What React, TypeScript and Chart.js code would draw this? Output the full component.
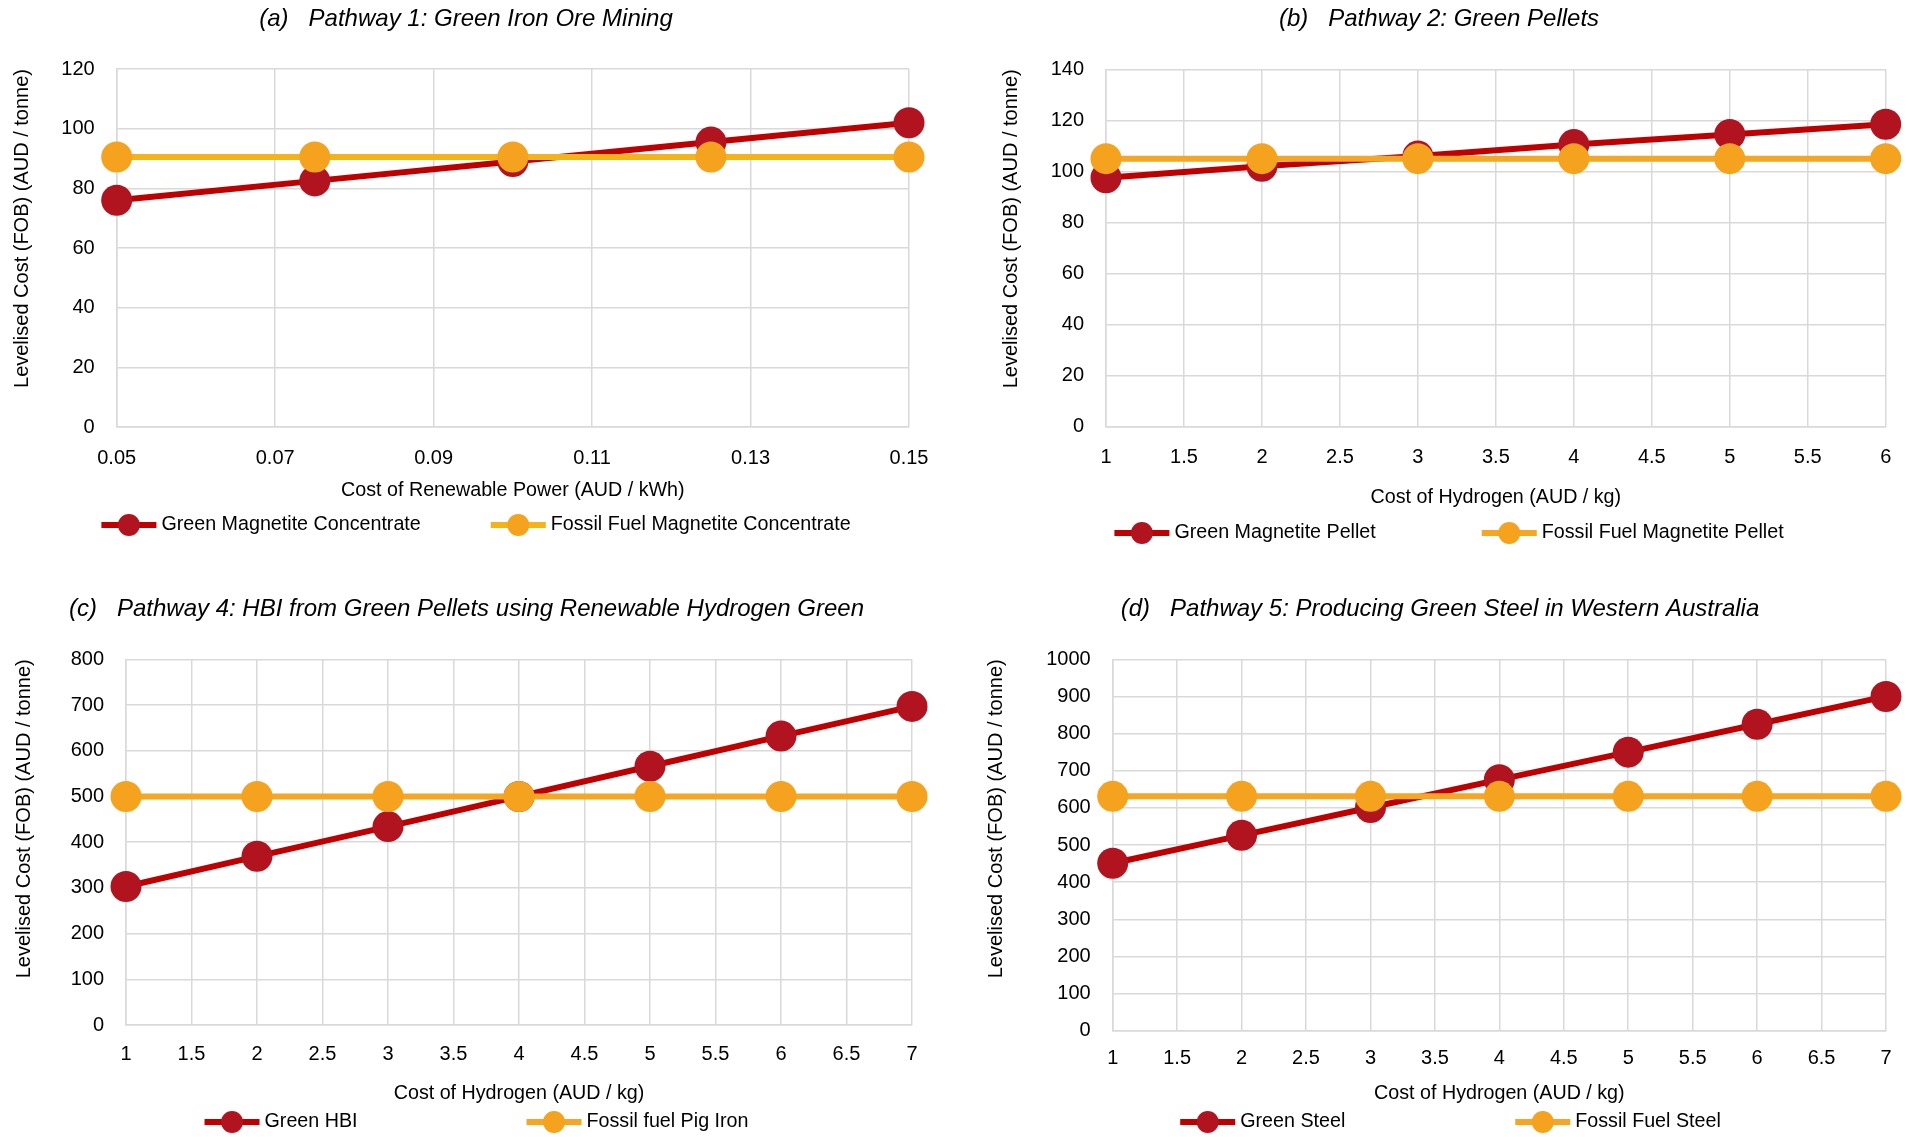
import React, { useEffect, useRef } from 'react';
import { Chart, registerables } from 'chart.js';

Chart.register(...registerables);

const SANS = "'Liberation Sans', Arial, sans-serif";
const LABEL_FONT = "'Liberation Sans', Arial, sans-serif";

const Y_TITLE = 'Levelised Cost (FOB) (AUD / tonne)';

// ---------- Panel (a) ----------
const titleA = '(a)   Pathway 1: Green Iron Ore Mining';
const xLabelA = 'Cost of Renewable Power (AUD / kWh)';
const namesA = ['Green Magnetite Concentrate', 'Fossil Fuel Magnetite Concentrate'];
const xValuesA = [0.05, 0.075, 0.1, 0.125, 0.15];
const greenA = [76, 82.5, 89, 95.5, 102];
const fossilA = [90.5, 90.5, 90.5, 90.5, 90.5];
const xTicksA = ['0.05', '0.07', '0.09', '0.11', '0.13', '0.15'];
const yTicksA = [0, 20, 40, 60, 80, 100, 120];

// ---------- Panel (b) ----------
const titleB = '(b)   Pathway 2: Green Pellets';
const xLabelB = 'Cost of Hydrogen (AUD / kg)';
const namesB = ['Green Magnetite Pellet', 'Fossil Fuel Magnetite Pellet'];
const xValuesB = [1, 2, 3, 4, 5, 6];
const greenB = [97.5, 102, 106, 110.5, 114.5, 118.5];
const fossilB = [105, 105, 105, 105, 105, 105];
const xTicksB = ['1', '1.5', '2', '2.5', '3', '3.5', '4', '4.5', '5', '5.5', '6'];
const yTicksB = [0, 20, 40, 60, 80, 100, 120, 140];

// ---------- Panel (c) ----------
const titleC = '(c)   Pathway 4: HBI from Green Pellets using Renewable Hydrogen Green';
const xLabelC = 'Cost of Hydrogen (AUD / kg)';
const namesC = ['Green HBI', 'Fossil fuel Pig Iron'];
const xValuesC = [1, 2, 3, 4, 5, 6, 7];
const greenC = [303, 369, 434, 500, 566, 632, 697];
const fossilC = [500, 500, 500, 500, 500, 500, 500];
const xTicksC = ['1', '1.5', '2', '2.5', '3', '3.5', '4', '4.5', '5', '5.5', '6', '6.5', '7'];
const yTicksC = [0, 100, 200, 300, 400, 500, 600, 700, 800];

// ---------- Panel (d) ----------
const titleD = '(d)   Pathway 5: Producing Green Steel in Western Australia';
const xLabelD = 'Cost of Hydrogen (AUD / kg)';
const namesD = ['Green Steel', 'Fossil Fuel Steel'];
const xValuesD = [1, 2, 3, 4, 5, 6, 7];
const greenD = [451, 526, 601, 676, 750, 825, 900];
const fossilD = [631, 631, 631, 631, 631, 631, 631];
const xTicksD = ['1', '1.5', '2', '2.5', '3', '3.5', '4', '4.5', '5', '5.5', '6', '6.5', '7'];
const yTicksD = [0, 100, 200, 300, 400, 500, 600, 700, 800, 900, 1000];

// colours
const RED_LINE = '#C00000';
const RED_DOT = '#B1141E';
const ORANGE_DOT = '#F5A21E';
const ORANGE_LINE_A = '#F2B418';
const ORANGE_LINE = '#F5A623';
const GRID = '#D9D9D9';

const TICK_SIZE = 20;
const LABEL_SIZE = 19.7;

const excelLegend = {
  id: 'excelLegend',
  afterDraw(chart: any, _args: any, opts: any) {
    const ctx = chart.ctx;
    const items = chart.data.datasets.map((ds: any) => ({
      text: ds.label,
      line: ds.borderColor,
      dot: ds.pointBackgroundColor,
    }));
    ctx.save();
    ctx.font = `${opts.fontSize}px ${LABEL_FONT}`;
    const symW = opts.symbolWidth;
    const symGap = opts.symbolGap;
    const widths = items.map((it: any) => symW + symGap + ctx.measureText(it.text).width);
    const total = widths.reduce((a: number, b: number) => a + b, 0) + opts.gap * (items.length - 1);
    let x = opts.centerX - total / 2;
    const y = opts.y;
    items.forEach((it: any, i: number) => {
      ctx.strokeStyle = it.line;
      ctx.lineWidth = 6;
      ctx.beginPath();
      ctx.moveTo(x, y);
      ctx.lineTo(x + symW, y);
      ctx.stroke();
      ctx.fillStyle = it.dot;
      ctx.beginPath();
      ctx.arc(x + symW / 2, y, opts.dotRadius, 0, Math.PI * 2);
      ctx.fill();
      ctx.fillStyle = '#000';
      ctx.textBaseline = 'middle';
      ctx.textAlign = 'left';
      ctx.fillText(it.text, x + symW + symGap, y);
      x += widths[i] + opts.gap;
    });
    ctx.restore();
  },
};

type Lay = {
  cl: number; ct: number; cw: number; ch: number;
  regionLeft: number; regionRight: number;
  L: number; R: number; T: number; B: number;
  titleY: number; yTitleX: number; xTickY: number; xTitleY: number;
  legendY: number; legendCX: number; legendGap: number;
};

type Panel = {
  title: string; xLabel: string; names: string[];
  xValues: number[]; green: number[]; fossil: number[];
  xTicks: string[]; yTicks: number[]; orangeLine: string;
  lay: Lay;
};

const panels: Panel[] = [
  {
    title: titleA, xLabel: xLabelA, names: namesA, xValues: xValuesA, green: greenA, fossil: fossilA,
    xTicks: xTicksA, yTicks: yTicksA, orangeLine: ORANGE_LINE_A,
    lay: { cl: 0, ct: 0, cw: 940, ch: 545, regionLeft: 0, regionRight: 932, L: 116.7, R: 909, T: 69, B: 427,
      titleY: 19, yTitleX: 22, xTickY: 458, xTitleY: 491, legendY: 525, legendCX: 476, legendGap: 70 },
  },
  {
    title: titleB, xLabel: xLabelB, names: namesB, xValues: xValuesB, green: greenB, fossil: fossilB,
    xTicks: xTicksB, yTicks: yTicksB, orangeLine: ORANGE_LINE,
    lay: { cl: 960, ct: 0, cw: 948, ch: 555, regionLeft: 978, regionRight: 1900, L: 1106, R: 1885.7, T: 69.3, B: 426.7,
      titleY: 19, yTitleX: 1011, xTickY: 457.5, xTitleY: 498, legendY: 533, legendCX: 1449, legendGap: 106 },
  },
  {
    title: titleC, xLabel: xLabelC, names: namesC, xValues: xValuesC, green: greenC, fossil: fossilC,
    xTicks: xTicksC, yTicks: yTicksC, orangeLine: ORANGE_LINE,
    lay: { cl: 0, ct: 570, cw: 940, ch: 567, regionLeft: 0, regionRight: 933, L: 126, R: 912, T: 659.3, B: 1025,
      titleY: 609, yTitleX: 24, xTickY: 1054, xTitleY: 1094, legendY: 1122, legendCX: 476.5, legendGap: 169 },
  },
  {
    title: titleD, xLabel: xLabelD, names: namesD, xValues: xValuesD, green: greenD, fossil: fossilD,
    xTicks: xTicksD, yTicks: yTicksD, orangeLine: ORANGE_LINE,
    lay: { cl: 960, ct: 570, cw: 948, ch: 567, regionLeft: 980, regionRight: 1900, L: 1112.7, R: 1886, T: 659.3, B: 1030.7,
      titleY: 609, yTitleX: 996, xTickY: 1058, xTitleY: 1094, legendY: 1122, legendCX: 1450.5, legendGap: 170 },
  },
];

function buildConfig(p: Panel): any {
  const L = p.lay;
  const titleLH = 24 * 1.2;
  const yTitleLH = 20 * 1.2;
  const xTitleLH = LABEL_SIZE * 1.2;
  const tickLH = TICK_SIZE * 1.2;
  const padL = L.regionLeft - L.cl;
  const padR = L.cl + L.cw - L.regionRight;
  const xScaleBottom = L.xTitleY + xTitleLH / 2;
  const padB = L.ct + L.ch - xScaleBottom;
  const titlePadTop = L.titleY - L.ct - titleLH / 2;
  const titlePadBottom = L.T - L.ct - titlePadTop - titleLH;
  const xVals = p.xTicks.map((t) => parseFloat(t));
  const yMin = p.yTicks[0];
  const yMax = p.yTicks[p.yTicks.length - 1];

  const gridOpts = { color: GRID, lineWidth: 1.5, drawTicks: false };
  const borderOpts = { display: true, color: GRID, width: 1.5 };

  return {
    type: 'line',
    data: {
      datasets: [
        {
          label: p.names[0],
          data: p.xValues.map((x, i) => ({ x, y: p.green[i] })),
          borderColor: RED_LINE,
          backgroundColor: RED_DOT,
          pointBackgroundColor: RED_DOT,
          borderWidth: 6,
          pointRadius: 15.5,
          pointHoverRadius: 15.5,
          pointBorderWidth: 0,
          order: 1,
          clip: false,
          xAxisID: 'x',
          yAxisID: 'y',
        },
        {
          label: p.names[1],
          data: p.xValues.map((x, i) => ({ x, y: p.fossil[i] })),
          borderColor: p.orangeLine,
          backgroundColor: ORANGE_DOT,
          pointBackgroundColor: ORANGE_DOT,
          borderWidth: 6,
          pointRadius: 15.5,
          pointHoverRadius: 15.5,
          pointBorderWidth: 0,
          order: 0,
          clip: false,
          xAxisID: 'x',
          yAxisID: 'y',
        },
      ],
    },
    options: {
      responsive: false,
      animation: false,
      devicePixelRatio: 1,
      events: [],
      layout: { padding: { left: padL, right: padR, top: 0, bottom: padB } },
      plugins: {
        legend: { display: false },
        tooltip: { enabled: false },
        title: {
          display: true,
          text: p.title,
          color: '#000',
          font: { family: SANS, size: 24, style: 'italic', weight: 'normal' },
          padding: { top: titlePadTop, bottom: titlePadBottom },
        },
        excelLegend: {
          centerX: L.legendCX - L.cl,
          y: L.legendY - L.ct,
          gap: L.legendGap,
          fontSize: LABEL_SIZE,
          symbolWidth: 55,
          symbolGap: 5,
          dotRadius: 11,
        },
      },
      scales: {
        x: {
          type: 'linear',
          position: 'bottom',
          min: xVals[0],
          max: xVals[xVals.length - 1],
          grid: gridOpts,
          border: borderOpts,
          ticks: {
            autoSkip: false,
            maxRotation: 0,
            color: '#000',
            font: { family: LABEL_FONT, size: TICK_SIZE },
            padding: L.xTickY - L.B - tickLH / 2,
            callback: (_v: any, i: number) => p.xTicks[i],
          },
          afterBuildTicks: (s: any) => {
            s.ticks = xVals.map((v) => ({ value: v }));
          },
          afterFit: (s: any) => {
            s.height = xScaleBottom - L.B;
            s.paddingLeft = 0;
            s.paddingRight = 0;
          },
          title: {
            display: true,
            text: p.xLabel,
            color: '#000',
            font: { family: LABEL_FONT, size: LABEL_SIZE },
            padding: { top: 0, bottom: 0 },
          },
        },
        y: {
          type: 'linear',
          position: 'left',
          min: yMin,
          max: yMax,
          grid: gridOpts,
          border: borderOpts,
          ticks: {
            color: '#000',
            font: { family: LABEL_FONT, size: TICK_SIZE },
            padding: 22,
            callback: (_v: any, i: number) => String(p.yTicks[i]),
          },
          afterBuildTicks: (s: any) => {
            s.ticks = p.yTicks.map((v) => ({ value: v }));
          },
          afterFit: (s: any) => {
            s.width = L.L - L.regionLeft;
            s.paddingTop = 0;
            s.paddingBottom = 0;
          },
          title: {
            display: true,
            text: Y_TITLE,
            align: 'end',
            color: '#000',
            font: { family: SANS, size: 20 },
            padding: { top: L.yTitleX - L.regionLeft - yTitleLH / 2, bottom: 0 },
          },
        },
        pad: {
          type: 'linear',
          position: 'right',
          display: true,
          grid: { display: false, drawTicks: false },
          border: { display: false },
          ticks: { display: false },
          afterFit: (s: any) => {
            s.width = L.regionRight - L.R;
            s.paddingTop = 0;
            s.paddingBottom = 0;
          },
        },
      },
    },
    plugins: [excelLegend],
  };
}

function ChartPanel({ panel }: { panel: Panel }) {
  const ref = useRef<HTMLCanvasElement | null>(null);
  useEffect(() => {
    if (!ref.current) return;
    const chart = new Chart(ref.current, buildConfig(panel));
    return () => chart.destroy();
  }, [panel]);
  const L = panel.lay;
  return (
    <canvas
      ref={ref}
      width={L.cw}
      height={L.ch}
      style={{ position: 'absolute', left: L.cl, top: L.ct, width: L.cw, height: L.ch }}
    />
  );
}

export default function App() {
  return (
    <div
      style={{
        position: 'fixed',
        left: 0,
        top: 0,
        width: 1910,
        height: 1137,
        overflow: 'hidden',
        background: '#fff',
      }}
    >
      {panels.map((p, i) => (
        <ChartPanel key={i} panel={p} />
      ))}
    </div>
  );
}
